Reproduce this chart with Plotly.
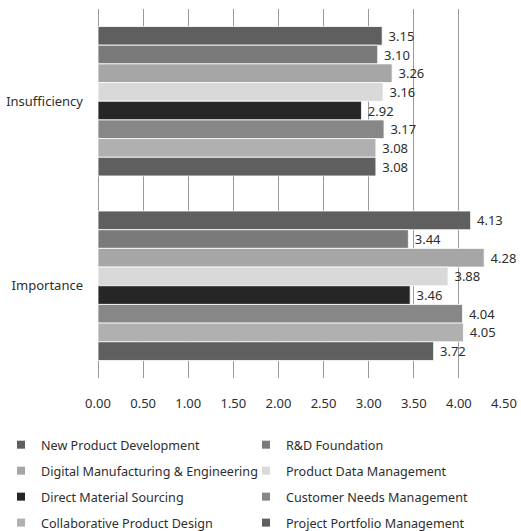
import plotly.graph_objects as go

# Survey dimensions shown on the category axis (top to bottom)
dimensions = ["Insufficiency", "Importance"]

# Series names, in the order they appear within each group
series_names = [
    "New Product Development",
    "R&D Foundation",
    "Digital Manufacturing & Engineering",
    "Product Data Management",
    "Direct Material Sourcing",
    "Customer Needs Management",
    "Collaborative Product Design",
    "Project Portfolio Management",
]

# Mean scores per series: [Insufficiency, Importance]
new_product_development = [3.15, 4.13]
rd_foundation = [3.10, 3.44]
digital_manufacturing = [3.26, 4.28]
product_data_management = [3.16, 3.88]
direct_material_sourcing = [2.92, 3.46]
customer_needs_management = [3.17, 4.04]
collaborative_product_design = [3.08, 4.05]
project_portfolio_management = [3.08, 3.72]

series_values = [
    new_product_development,
    rd_foundation,
    digital_manufacturing,
    product_data_management,
    direct_material_sourcing,
    customer_needs_management,
    collaborative_product_design,
    project_portfolio_management,
]

series_colors = [
    "#5f5f5f", "#7a7a7a", "#a6a6a6", "#d9d9d9",
    "#262626", "#878787", "#b0b0b0", "#5f5f5f",
]

x_ticks = [0, 0.5, 1, 1.5, 2, 2.5, 3, 3.5, 4, 4.5]

FONT = "Noto Sans"
TEXT_COLOR = "#2e2e2e"
GRID = "#999999"
W, H = 521, 531

fig = go.Figure()
for i, (name, vals, col) in enumerate(zip(series_names, series_values, series_colors)):
    fig.add_trace(go.Bar(
        name=name,
        y=dimensions,
        x=vals,
        orientation="h",
        marker=dict(color=col, line=dict(color="white", width=0.8)),
        texttemplate=" %{x:.2f}",
        textposition="outside",
        textfont=dict(family=FONT, size=13, color=TEXT_COLOR),
        cliponaxis=False,
        legendgroup=name,
        showlegend=False,
    ))

# Small square legend keys, split into two columns (two side-by-side legends)
for i, (name, col) in enumerate(zip(series_names, series_colors)):
    fig.add_trace(go.Scatter(
        name=name,
        x=[None],
        y=[None],
        mode="markers",
        marker=dict(symbol="square", size=8, color=col),
        legendgroup=name,
        legend="legend" if i % 2 == 0 else "legend2",
        hoverinfo="skip",
    ))

legend_style = dict(
    orientation="v",
    xref="container",
    yref="container",
    yanchor="top",
    y=1 - 430 / H,
    xanchor="left",
    font=dict(family=FONT, size=12.6, color=TEXT_COLOR),
    tracegroupgap=6.6,
    bgcolor="rgba(0,0,0,0)",
)

fig.update_layout(
    width=W,
    height=H,
    margin=dict(l=98, r=17, t=9, b=153, autoexpand=False),
    paper_bgcolor="white",
    plot_bgcolor="white",
    barmode="group",
    bargap=0.19,
    bargroupgap=0,
    showlegend=True,
    legend=dict(legend_style, x=1 / W),
    legend2=dict(legend_style, x=246 / W),
    font=dict(family=FONT, size=13, color=TEXT_COLOR),
    xaxis=dict(
        range=[0, 4.5],
        tickvals=x_ticks,
        tickformat=".2f",
        showgrid=True,
        gridcolor=GRID,
        gridwidth=1,
        zeroline=True,
        zerolinecolor=GRID,
        zerolinewidth=1,
        showline=False,
        ticks="",
        ticklabelstandoff=16,
        tickfont=dict(family=FONT, size=13, color=TEXT_COLOR),
    ),
    yaxis=dict(
        autorange="reversed",
        showgrid=False,
        showline=False,
        ticks="",
        ticklabelstandoff=14,
        tickfont=dict(family=FONT, size=13, color=TEXT_COLOR),
    ),
)

fig.write_html("out.html")
